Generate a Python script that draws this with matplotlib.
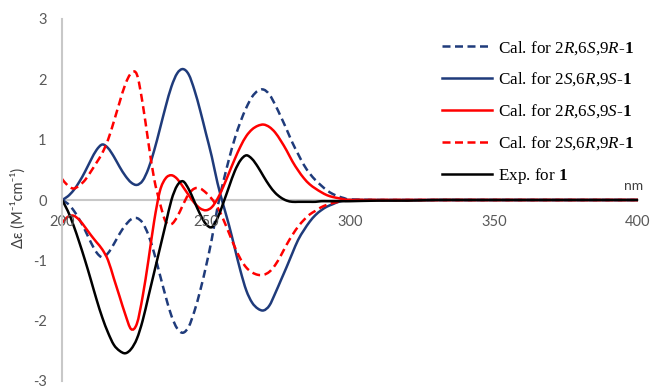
import numpy as np
import matplotlib
matplotlib.use('Agg')
import matplotlib.pyplot as plt
from matplotlib.path import Path
from matplotlib.patches import PathPatch
from matplotlib.lines import Line2D

plt.rcParams['mathtext.fontset'] = 'custom'
plt.rcParams['mathtext.rm'] = 'Liberation Serif'
plt.rcParams['mathtext.it'] = 'Liberation Serif:italic'
plt.rcParams['mathtext.bf'] = 'Liberation Serif:bold'
plt.rcParams['axes.unicode_minus'] = False

# wavelength grid (nm): 2 nm steps over the band region, coarse afterwards
wl = np.concatenate([np.arange(200, 301, 2), np.arange(310, 401, 10)])

cal_2R6S9R = [0, -0.06, -0.17, -0.32, -0.50, -0.70, -0.87, -0.95, -0.88, -0.73,
              -0.56, -0.42, -0.32, -0.30, -0.38, -0.58, -0.88, -1.24, -1.60, -1.92,
              -2.13, -2.20, -2.10, -1.84, -1.50, -1.10, -0.65, -0.12, 0.30, 0.68,
              1.02, 1.30, 1.53, 1.71, 1.81, 1.83, 1.75, 1.58, 1.38, 1.17,
              0.95, 0.76, 0.58, 0.44, 0.33, 0.24, 0.16, 0.10, 0.06, 0.03,
              0.01,
              0, 0, 0, 0, 0, 0, 0, 0, 0, 0]
cal_2S6R9S = [0, 0.06, 0.16, 0.30, 0.47, 0.66, 0.83, 0.92, 0.86, 0.72,
              0.55, 0.40, 0.29, 0.25, 0.32, 0.52, 0.82, 1.18, 1.55, 1.88,
              2.10, 2.17, 2.08, 1.82, 1.48, 1.10, 0.72, 0.28, -0.08, -0.42,
              -0.80, -1.18, -1.50, -1.70, -1.80, -1.83, -1.75, -1.55, -1.33, -1.11,
              -0.88, -0.66, -0.50, -0.36, -0.25, -0.17, -0.11, -0.07, -0.03, -0.01,
              0,
              0, 0, 0, 0, 0, 0, 0, 0, 0, 0]
cal_2R6S9S = [-0.38, -0.28, -0.26, -0.33, -0.45, -0.58, -0.70, -0.82, -1.00, -1.30,
              -1.60, -1.90, -2.14, -2.05, -1.60, -1.00, -0.35, 0.15, 0.36, 0.41,
              0.35, 0.22, 0.08, -0.05, -0.14, -0.17, -0.12, 0.02, 0.22, 0.45,
              0.68, 0.89, 1.06, 1.17, 1.23, 1.25, 1.21, 1.12, 0.98, 0.82,
              0.64, 0.49, 0.36, 0.26, 0.19, 0.13, 0.08, 0.05, 0.03, 0.01,
              0,
              0, 0, 0, 0, 0, 0, 0, 0, 0, 0]
cal_2S6R9R = [0.35, 0.24, 0.19, 0.24, 0.33, 0.47, 0.62, 0.78, 1.00, 1.30,
              1.62, 1.92, 2.10, 2.08, 1.60, 0.95, 0.35, -0.05, -0.36, -0.40,
              -0.28, -0.08, 0.10, 0.19, 0.19, 0.12, 0.02, -0.12, -0.32, -0.55,
              -0.78, -0.98, -1.12, -1.20, -1.24, -1.24, -1.19, -1.08, -0.92, -0.74,
              -0.58, -0.44, -0.33, -0.24, -0.18, -0.12, -0.08, -0.05, -0.03, -0.01,
              0,
              0, 0, 0, 0, 0, 0, 0, 0, 0, 0]
exp_1 = [0, -0.18, -0.42, -0.70, -1.00, -1.32, -1.65, -1.95, -2.20, -2.40,
         -2.50, -2.54, -2.47, -2.30, -2.00, -1.60, -1.20, -0.80, -0.40, 0.00,
         0.24, 0.31, 0.18, -0.03, -0.24, -0.40, -0.45, -0.30, -0.05, 0.22,
         0.48, 0.66, 0.74, 0.68, 0.55, 0.39, 0.24, 0.12, 0.04, -0.01,
         -0.03, -0.03, -0.03, -0.03, -0.03, -0.02, -0.02, -0.02, -0.02, -0.02,
         -0.02,
         -0.01, -0.01, 0, 0, 0, 0, 0, 0, 0, 0]

labels = [r'Cal. for 2$\mathit{R}$,6$\mathit{S}$,9$\mathit{R}$-$\mathbf{1}$',
          r'Cal. for 2$\mathit{S}$,6$\mathit{R}$,9$\mathit{S}$-$\mathbf{1}$',
          r'Cal. for 2$\mathit{R}$,6$\mathit{S}$,9$\mathit{S}$-$\mathbf{1}$',
          r'Cal. for 2$\mathit{S}$,6$\mathit{R}$,9$\mathit{R}$-$\mathbf{1}$',
          r'Exp. for $\mathbf{1}$']
series = [cal_2R6S9R, cal_2S6R9S, cal_2R6S9S, cal_2S6R9R, exp_1]
colors = ['#1F3B7B', '#1F3B7B', '#FF0000', '#FF0000', '#000000']
dash = (0, (3.2, 1.8))
styles = [dash, '-', '-', dash, '-']


def smooth_path(x, y):
    """Excel-style smoothed line: cubic Bezier segments through the data points."""
    pts = np.column_stack([x, y]).astype(float)
    ext = np.vstack([pts[0], pts, pts[-1]])
    verts = [pts[0]]
    codes = [Path.MOVETO]
    for i in range(len(pts) - 1):
        p0, p1, p2, p3 = ext[i], ext[i + 1], ext[i + 2], ext[i + 3]
        verts += [p1 + (p2 - p0) / 6, p2 - (p3 - p1) / 6, p2]
        codes += [Path.CURVE4] * 3
    return Path(verts, codes)


fig = plt.figure(figsize=(6.54, 3.89), dpi=100)
ax = fig.add_axes([62 / 654, 1 - 381 / 389, 576 / 654, 362 / 389])

handles = []
for y, c, ls, lab in zip(series, colors, styles, labels):
    ax.add_patch(PathPatch(smooth_path(wl, y), facecolor='none', edgecolor=c,
                           linestyle=ls, linewidth=1.8, capstyle='butt'))
    handles.append(Line2D([], [], color=c, linestyle=ls, linewidth=1.8, label=lab))

ax.set_xlim(200, 400)
ax.set_ylim(-3, 3)
ax.set_xticks([200, 250, 300, 350, 400])
ax.set_yticks([-3, -2, -1, 0, 1, 2, 3])

for s in ['top', 'right']:
    ax.spines[s].set_visible(False)
ax.spines['bottom'].set_position(('data', 0))
ax.spines['bottom'].set_zorder(0)
for s in ['left', 'bottom']:
    ax.spines[s].set_color('#C8C8C8')
    ax.spines[s].set_linewidth(1.5)

ax.tick_params(axis='both', length=0, labelsize=10.5, labelcolor='#595959')
ax.tick_params(axis='x', pad=11)
ax.tick_params(axis='y', pad=11)
for t in ax.get_xticklabels() + ax.get_yticklabels():
    t.set_family('Lato')

ax.text(398.3, 0.23, 'nm', ha='center', va='center', fontsize=10,
        color='#404040', family='Lato')

fig.text(18 / 654, 1 - 208 / 389, 'Δε (M⁻¹cm⁻¹)', rotation=90, ha='center',
         va='center', fontsize=10.5, color='#404040', family=['Lato', 'DejaVu Sans'])

fig.legend(handles=handles, loc='upper left', bbox_to_anchor=(442 / 654, 1 - 39 / 389),
           frameon=False, prop={'family': 'Liberation Serif', 'size': 12.3},
           handlelength=2.95, handletextpad=0.35, labelspacing=0.82,
           borderpad=0, borderaxespad=0)

fig.savefig('out.png', dpi=100)
